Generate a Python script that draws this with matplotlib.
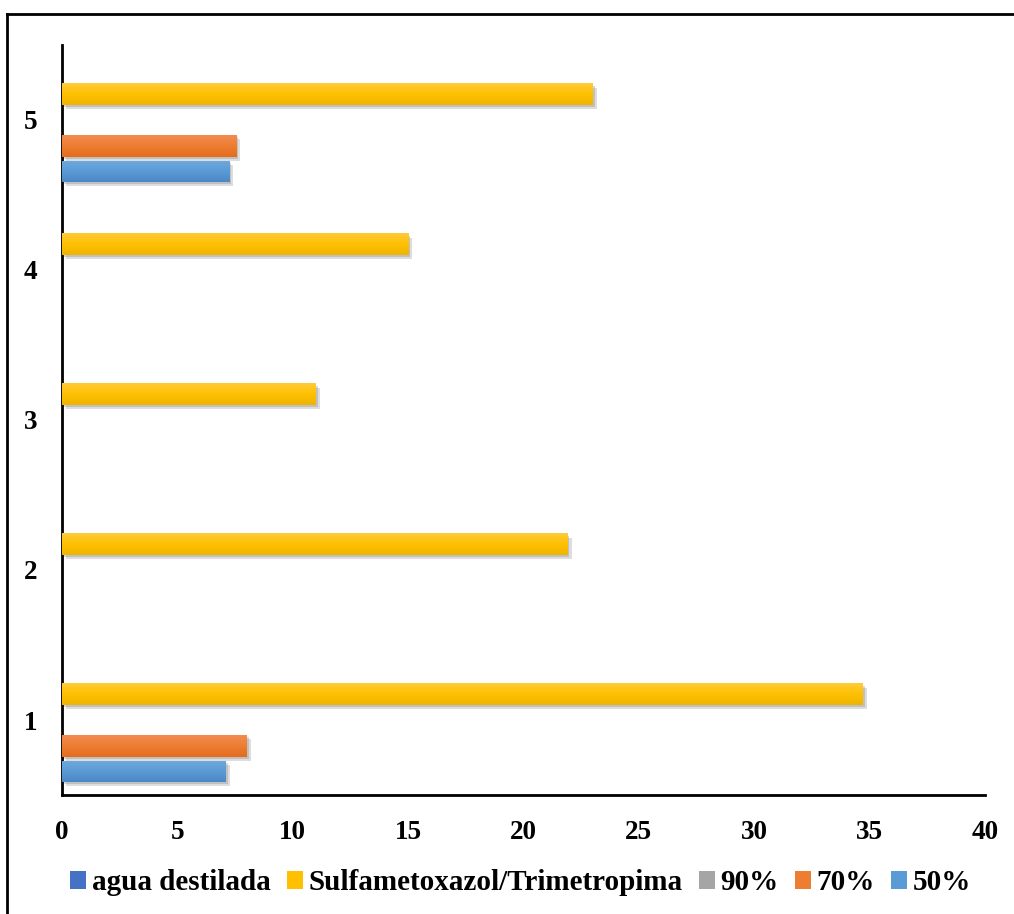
import numpy as np
import matplotlib.pyplot as plt
import matplotlib.patheffects as pe
from matplotlib.lines import Line2D
from matplotlib.patches import Patch
from matplotlib.colors import LinearSegmentedColormap

plt.rcParams['font.family'] = ['Liberation Serif', 'DejaVu Serif']
plt.rcParams['font.weight'] = 'bold'

groups = ['1', '2', '3', '4', '5']
series = ['50%', '70%', '90%', 'Sulfametoxazol/Trimetropima', 'agua destilada']
v50 = [7.1, 0, 0, 0, 7.25]
v70 = [8.0, 0, 0, 0, 7.55]
v90 = [0, 0, 0, 0, 0]
sulfa = [34.7, 21.9, 11.0, 15.0, 23.0]
agua = [0, 0, 0, 0, 0]
values = [v50, v70, v90, sulfa, agua]

# (top colour, mid colour, bottom colour) for the gradient look
colors = [
    ('#6fa9e0', '#5b9bd5', '#4a88c7'),
    ('#f28c50', '#ed7d31', '#e36c1c'),
    ('#b5b5b5', '#a5a5a5', '#959595'),
    ('#ffcb3a', '#ffc000', '#eeb400'),
    ('#5582d0', '#4472c4', '#3862b2'),
]

fig = plt.figure(figsize=(10.14, 9.14), dpi=100)
ax = fig.add_axes([62 / 1014, 1 - 795 / 914, 923 / 1014, 750 / 914])

y = np.arange(len(groups))
slot = 0.172
h = 0.143
shadow = [pe.SimplePatchShadow(offset=(3, -3), shadow_rgbFace='#909090', alpha=0.3),
          pe.SimplePatchShadow(offset=(1.5, -1.5), shadow_rgbFace='#808080', alpha=0.3),
          pe.Normal()]

for i, (vals, col) in enumerate(zip(values, colors)):
    off = (i - 2) * slot
    bars = ax.barh(y + off, vals, height=h, color=col[1], zorder=2)
    cm = LinearSegmentedColormap.from_list('g', [col[2], col[1], col[0]])
    for b, v in zip(bars, vals):
        if v <= 0:
            b.set_visible(False)
            continue
        b.set_path_effects(shadow)
        x0, y0 = b.get_x(), b.get_y()
        grad = np.linspace(0, 1, 64).reshape(-1, 1)
        im = ax.imshow(grad, extent=(x0, x0 + b.get_width(), y0, y0 + h), origin='lower',
                       cmap=cm, aspect='auto', zorder=3, interpolation='bicubic')
        im.set_clip_path(b)

ax.set_xlim(0, 40)
ax.set_ylim(-0.5, 4.5)
ax.set_xticks(range(0, 41, 5))
ax.set_yticks(y)
ax.set_yticklabels(groups)
ax.tick_params(axis='both', length=0, labelsize=19.5)
ax.tick_params(axis='x', pad=18)
ax.tick_params(axis='y', pad=18)
for lab in ax.get_xticklabels() + ax.get_yticklabels():
    lab.set_fontweight('bold')
ax.spines['top'].set_visible(False)
ax.spines['right'].set_visible(False)
ax.spines['left'].set_linewidth(2)
ax.spines['bottom'].set_linewidth(2)

handles = [Patch(facecolor=colors[i][1]) for i in [4, 3, 2, 1, 0]]
labels = [series[i] for i in [4, 3, 2, 1, 0]]
ax.legend(handles, labels, loc='center', bbox_to_anchor=(0.497, -0.117), ncol=5, frameon=False,
          prop={'size': 21, 'weight': 'bold'}, handlelength=0.55, handleheight=0.55,
          handletextpad=0.2, columnspacing=0.55)

# outer frame (cut off on right and bottom)
fig.add_artist(Line2D([7 / 1014, 7 / 1014], [0, 1 - 14 / 914], transform=fig.transFigure,
                      color='black', lw=2))
fig.add_artist(Line2D([7 / 1014, 1], [1 - 14 / 914, 1 - 14 / 914], transform=fig.transFigure,
                      color='black', lw=2))

fig.savefig('out.png', dpi=100)
